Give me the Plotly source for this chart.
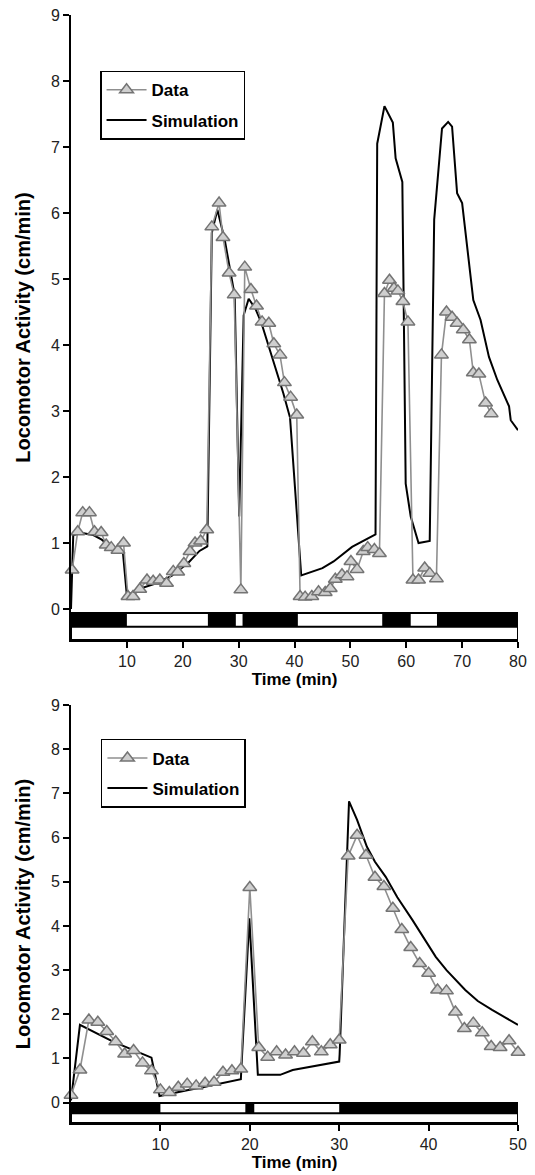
import plotly.graph_objects as go

# ---------------- data ----------------
top_data_t = [0.2, 1.2, 2.1, 3.3, 4.2, 5.4, 6.3, 7.2, 8.4, 9.4, 10.2, 11.1, 12.3, 13.6, 14.7, 15.9, 17.1, 18.3, 19.1,
              20.2, 21.3, 22.2, 23.2, 24.3, 25.2, 26.5, 27.2, 28.3, 29.2, 30.4, 31.1, 32.2, 33.2, 34.2, 35.4, 36.3,
              37.4, 38.2, 39.3, 40.4, 41.0, 41.9, 43.1, 44.3, 45.5, 46.4, 47.3, 48.5, 49.4, 50.1, 51.2, 52.3, 53.1,
              54.3, 55.2, 56.1, 57.0, 57.8, 58.5, 59.4, 60.3, 61.2, 62.2, 63.3, 64.2, 65.4, 66.3, 67.2, 68.2, 69.1,
              70.2, 71.3, 72.0, 73.0, 74.2, 75.2]
top_data_v = [0.59, 1.17, 1.46, 1.46, 1.17, 1.16, 0.97, 0.93, 0.89, 1.0, 0.19, 0.19, 0.30, 0.44, 0.42, 0.44, 0.39,
              0.57, 0.56, 0.69, 0.87, 1.0, 1.03, 1.2, 5.79, 6.15, 5.63, 5.09, 4.76, 0.29, 5.18, 4.84, 4.59, 4.35,
              4.33, 4.02, 3.85, 3.43, 3.21, 2.94, 0.19, 0.18, 0.19, 0.26, 0.25, 0.31, 0.45, 0.52, 0.49, 0.72, 0.6,
              0.87, 0.93, 0.9, 0.84, 4.78, 4.98, 4.86, 4.82, 4.66, 4.35, 0.44, 0.44, 0.62, 0.54, 0.46, 3.85, 4.5,
              4.42, 4.33, 4.23, 4.08, 3.58, 3.56, 3.12, 2.96]

top_sim_t = [0, 0.4, 2, 4, 5.5, 7, 9.3, 10.0, 12, 15, 18, 21, 23, 24.4, 25.2, 26.2, 27.5, 28.5, 29.3, 30.1,
             30.9, 31.8, 33, 34.1, 35.3, 36.5, 38, 39.2, 41.2, 45, 47, 50.3, 52.1, 54.5, 54.8, 56.1, 57.6, 58.1,
             59.3, 59.9, 60.8, 62.2, 64.2, 65.0, 66.4, 67.5, 68.2, 69.1, 70.0, 70.9, 72.0, 73.3, 74.8, 76.3, 78.4,
             78.7, 80]
top_sim_v = [0, 1.12, 1.15, 1.12, 1.05, 0.95, 0.85, 0.2, 0.3, 0.38, 0.5, 0.7, 0.88, 0.95, 5.7, 6.05, 5.6, 5.1,
             4.75, 1.4, 4.45, 4.7, 4.55, 4.33, 4.0, 3.67, 3.27, 2.9, 0.51, 0.62, 0.72, 0.94, 1.02, 1.13, 7.05, 7.62,
             7.37, 6.83, 6.47, 1.9, 1.4, 1.0, 1.03, 5.9, 7.28, 7.38, 7.31, 6.3, 6.15, 5.49, 4.68, 4.38, 3.82, 3.47,
             3.07, 2.86, 2.71]

bot_data_t = [0, 1, 2, 3, 4, 5, 6, 7, 8, 9, 10, 11, 12, 13, 14, 15, 16, 17, 18, 19, 20, 21, 22, 23, 24, 25,
              26, 27, 28, 29, 30, 31, 32, 33, 34, 35, 36, 37, 38, 39, 40, 41, 42, 43, 44, 45, 46, 47, 48, 49, 50]
bot_data_v = [0.17, 0.74, 1.87, 1.82, 1.61, 1.38, 1.1, 1.18, 0.9, 0.72, 0.29, 0.23, 0.35, 0.42, 0.38, 0.44, 0.46,
              0.69, 0.72, 0.76, 4.87, 1.25, 1.03, 1.15, 1.08, 1.15, 1.12, 1.38, 1.15, 1.31, 1.42, 5.58, 6.05, 5.6,
              5.1, 4.89, 4.4, 3.92, 3.51, 3.15, 2.93, 2.55, 2.53, 2.05, 1.68, 1.8, 1.58, 1.27, 1.25, 1.4, 1.14]

bot_sim_t = [0, 1.0, 4.7, 9.0, 9.9, 11, 13, 15, 17, 19.0, 19.05, 19.95, 20.9, 23.4, 24.8, 30.0, 30.05, 31.1, 32,
             33.1, 34, 35.2, 36.5, 38.2, 40.8, 42, 44.1, 45.5, 47.1, 48.5, 50]
bot_sim_v = [0.05, 1.76, 1.38, 1.02, 0.15, 0.2, 0.28, 0.36, 0.44, 0.53, 0.75, 4.17, 0.63, 0.63, 0.74, 0.93, 1.1,
             6.82, 6.4, 5.79, 5.45, 5.11, 4.65, 4.13, 3.3, 3.0, 2.55, 2.3, 2.1, 1.93, 1.76]

# dark (black) periods of the light/dark bar
top_dark_start = [0, 24.5, 30.7, 55.7, 65.5]
top_dark_end = [10, 29.5, 40.6, 60.8, 80]
bot_dark_start = [0, 19.5, 30]
bot_dark_end = [10, 20.5, 50]

top_xticks = [10, 20, 30, 40, 50, 60, 70, 80]
bot_xticks = [10, 20, 30, 40, 50]
yticks = [0, 1, 2, 3, 4, 5, 6, 7, 8, 9]

# ---------------- styling ----------------
FONT = "Liberation Sans, Arial, sans-serif"
DATA_LINE = "#8f8f8f"
MARK_FILL = "#cfcfcf"
MARK_LINE = "#747474"

fig = go.Figure()


def add_panel(xa, ya, sim_t, sim_v, dat_t, dat_v, legend):
    fig.add_trace(go.Scatter(
        x=sim_t, y=sim_v, mode="lines", name="Simulation",
        line=dict(color="black", width=2), xaxis=xa, yaxis=ya,
        legend=legend, legendrank=2, legendgroup=legend + "s", showlegend=True))
    fig.add_trace(go.Scatter(
        x=dat_t, y=dat_v, mode="lines+markers", name="Data",
        line=dict(color=DATA_LINE, width=1.6),
        marker=dict(symbol="triangle-up", size=12, color=MARK_FILL,
                    line=dict(color=MARK_LINE, width=1.5)),
        cliponaxis=False, xaxis=xa, yaxis=ya,
        legend=legend, legendrank=1, legendgroup=legend + "d", showlegend=True))


add_panel("x", "y", top_sim_t, top_sim_v, top_data_t, top_data_v, "legend")
add_panel("x2", "y2", bot_sim_t, bot_sim_v, bot_data_t, bot_data_v, "legend2")

shapes = []


def add_strip(xref, yref, xmax, y_top, y_mid, y_bot, d0, d1):
    shapes.append(dict(type="rect", xref=xref, yref=yref, x0=0, x1=xmax, y0=y_bot, y1=y_top,
                       fillcolor="white", line=dict(color="black", width=2), layer="above"))
    for a, b in zip(d0, d1):
        shapes.append(dict(type="rect", xref=xref, yref=yref, x0=a, x1=b, y0=y_mid, y1=y_top,
                           fillcolor="black", line=dict(width=0), layer="above"))
    shapes.append(dict(type="line", xref=xref, yref=yref, x0=0, x1=xmax, y0=y_mid, y1=y_mid,
                       line=dict(color="black", width=2), layer="above"))
    shapes.append(dict(type="rect", xref=xref, yref=yref, x0=0, x1=xmax, y0=y_bot, y1=y_top,
                       fillcolor="rgba(0,0,0,0)", line=dict(color="black", width=2), layer="above"))


add_strip("x", "y", 80, -0.06, -0.27, -0.47, top_dark_start, top_dark_end)
add_strip("x2", "y2", 50, -0.01, -0.24, -0.46, bot_dark_start, bot_dark_end)

axis_common = dict(showline=True, linewidth=2, linecolor="black", ticks="outside", ticklen=6,
                   tickwidth=2, tickcolor="black", showgrid=False, zeroline=False,
                   tickfont=dict(family=FONT, size=16, color="#222"), automargin=False)

xt = dict(text="Time (min)", font=dict(family=FONT, size=17, color="black", weight="bold"), standoff=4)
yt = dict(text="Locomotor Activity (cm/min)",
          font=dict(family=FONT, size=20, color="black", weight="bold"), standoff=15)

leg_common = dict(bgcolor="white", bordercolor="black", borderwidth=1.5,
                  font=dict(family=FONT, size=17, color="black", weight="bold"),
                  xanchor="left", yanchor="top", tracegroupgap=5, itemwidth=40)

fig.update_layout(
    width=535, height=1175, template="none",
    margin=dict(l=71, r=17, t=15, b=52),
    paper_bgcolor="white", plot_bgcolor="white",
    showlegend=True,
    xaxis=dict(domain=[0, 1], anchor="y", range=[0, 80], tickvals=top_xticks, title=xt, **axis_common),
    yaxis=dict(domain=[0.4359, 1], anchor="x", range=[-0.47, 9], tickvals=yticks, title=yt, **axis_common),
    xaxis2=dict(domain=[0, 1], anchor="y2", range=[0, 50], tickvals=bot_xticks, title=xt, **axis_common),
    yaxis2=dict(domain=[0, 0.3773], anchor="x2", range=[-0.46, 9], tickvals=yticks, title=yt, **axis_common),
    legend=dict(x=0.065, y=0.9497, **leg_common),
    legend2=dict(x=0.067, y=0.3466, **leg_common),
    shapes=shapes,
)

fig.write_html("out.html", config={"displayModeBar": False},
               post_script="document.body.style.margin='0px';")
